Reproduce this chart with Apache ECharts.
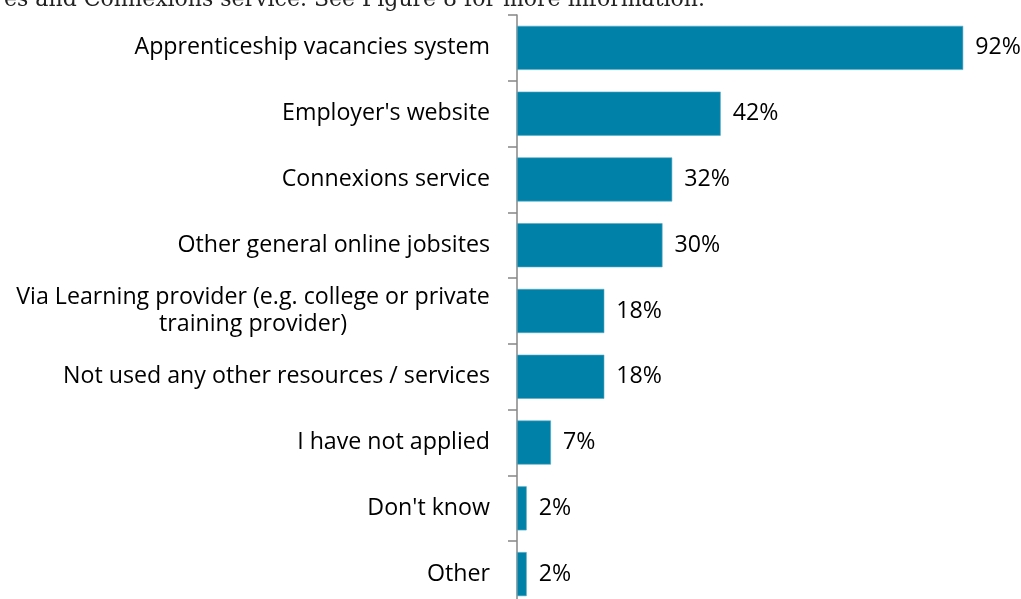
<!DOCTYPE html>
<html>
<head>
<meta charset="utf-8">
<script src="https://cdn.jsdelivr.net/npm/echarts@6/dist/echarts.min.js"></script>
<style>
  html, body { margin: 0; padding: 0; background: #ffffff; overflow: hidden; }
  /* the plot runs a little past the bottom edge of the page */
  #chart { width: 1021px; height: 630px; }
</style>
</head>
<body>
<div id="chart"></div>
<script>
// Resources used when looking for an apprenticeship (% of respondents)
const categories = [
  'Apprenticeship vacancies system',
  "Employer's website",
  'Connexions service',
  'Other general online jobsites',
  'Via Learning provider (e.g. college or private\ntraining provider)',
  'Not used any other resources / services',
  'I have not applied',
  "Don't know",
  'Other'
];
const shares = [92, 42, 32, 30, 18, 18, 7, 2, 2];
const introText = 'es and Connexions service. See Figure 8 for more information.';

const LABEL_FONT = '"Open Sans", "Noto Sans", sans-serif';
const LABEL_SIZE = 23.2;
const BAR_COLOR = '#0082a8';

// width of the longest line of a wrapped label, so both lines can be centred in one block
const measureCtx = document.createElement('canvas').getContext('2d');
measureCtx.font = LABEL_SIZE + 'px ' + LABEL_FONT;
function lineWidth(s) { return Math.ceil(measureCtx.measureText(s).width); }
const wrapWidth = Math.max.apply(null, categories
  .filter(c => c.indexOf('\n') >= 0)
  .map(c => Math.max.apply(null, c.split('\n').map(lineWidth))));

const chart = echarts.init(document.getElementById('chart'), null, { renderer: 'canvas' });

chart.setOption({
  animation: false,
  backgroundColor: '#ffffff',
  graphic: [{
    type: 'text',
    right: 316,
    top: -11,
    style: {
      text: introText,
      font: '22px "DejaVu Serif", "Liberation Serif", serif',
      fill: '#222222'
    }
  }],
  grid: { left: 517, top: 15, width: 485, height: 592, containLabel: false },
  xAxis: {
    type: 'value',
    min: 0,
    max: 100,
    show: false
  },
  yAxis: {
    type: 'category',
    inverse: true,
    data: categories,
    axisLine: { show: true, lineStyle: { color: '#868686', width: 1.5 } },
    axisTick: { show: true, length: 9, lineStyle: { color: '#868686', width: 1.5 } },
    splitLine: { show: false },
    axisLabel: {
      margin: 27,
      color: '#000000',
      fontFamily: LABEL_FONT,
      fontSize: LABEL_SIZE,
      formatter: function (value) {
        if (value.indexOf('\n') < 0) return value;
        return value.split('\n').map(l => '{wrap|' + l + '}').join('\n');
      },
      rich: {
        wrap: {
          width: wrapWidth,
          align: 'center',
          lineHeight: 27,
          fontFamily: LABEL_FONT,
          fontSize: LABEL_SIZE,
          color: '#000000'
        }
      }
    }
  },
  series: [{
    type: 'bar',
    data: shares,
    barCategoryGap: '33%',
    itemStyle: { color: BAR_COLOR, borderColor: '#58aac6', borderWidth: 0.6 },
    label: {
      show: true,
      position: 'right',
      distance: 12,
      formatter: '{c}%',
      color: '#000000',
      fontFamily: LABEL_FONT,
      fontSize: LABEL_SIZE
    }
  }]
});
</script>
</body>
</html>
